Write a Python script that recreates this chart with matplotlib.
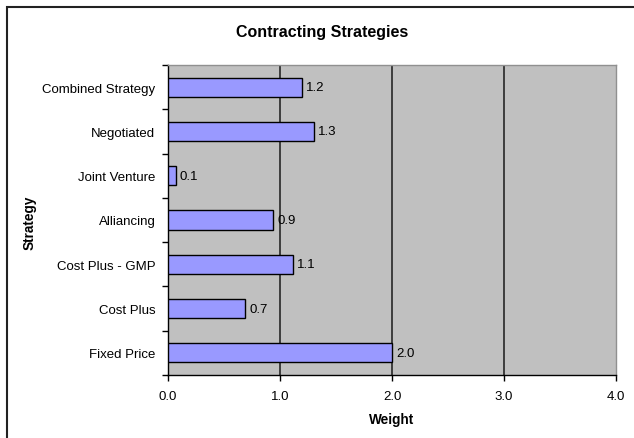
import matplotlib
matplotlib.use("Agg")
import matplotlib.pyplot as plt
from matplotlib.patches import Rectangle
import numpy as np

plt.rcParams['font.family'] = ['Liberation Sans', 'DejaVu Sans']

# strategies listed bottom to top
strategies = ['Fixed Price', 'Cost Plus', 'Cost Plus - GMP', 'Alliancing',
              'Joint Venture', 'Negotiated', 'Combined Strategy']
weights = [2.0, 0.69, 1.12, 0.94, 0.07, 1.3, 1.2]
x_ticks = [0.0, 1.0, 2.0, 3.0, 4.0]

W, H = 634, 439
fig = plt.figure(figsize=(W / 100, H / 100), dpi=100)
fig.patch.set_facecolor('white')

# plot area in pixel coordinates
left, right, top, bottom = 168, 616, 66, 376
ax = fig.add_axes([left / W, 1 - bottom / H, (right - left) / W, (bottom - top) / H])
ax.set_facecolor('#C0C0C0')

y = np.arange(len(strategies))
ax.barh(y, weights, height=0.43, color='#9999FF', edgecolor='black',
        linewidth=1.0, zorder=3)

for yi, w in zip(y, weights):
    ax.text(w + 0.035, yi, '%.1f' % w, va='center', ha='left', fontsize=9.5,
            zorder=4)

ax.set_xlim(0, 4)
ax.set_ylim(-0.5, len(strategies) - 0.5)

ax.set_xticks(x_ticks)
ax.set_xticklabels(['%.1f' % t for t in x_ticks], fontsize=9.5)
ax.set_yticks(y)
ax.set_yticklabels(strategies, fontsize=9.5)
ax.set_yticks(np.arange(-0.5, len(strategies)), minor=True)
ax.tick_params(axis='y', which='major', length=0, pad=9)
ax.tick_params(axis='y', which='minor', length=4, width=1.0, direction='out')
ax.tick_params(axis='x', which='major', length=4, width=1.0, direction='out', pad=7)

# vertical gridlines
for t in x_ticks[1:-1]:
    ax.axvline(t, color='#333333', linewidth=1.3, zorder=1)

ax.spines['left'].set_color('black')
ax.spines['bottom'].set_color('black')
ax.spines['top'].set_color('#909090')
ax.spines['right'].set_color('#909090')
for s in ax.spines.values():
    s.set_linewidth(1.0)

fig.text(322 / W, 1 - 33 / H, 'Contracting Strategies', ha='center', va='center',
         fontsize=11.5, fontweight='bold')
fig.text((left + right) / 2 / W, 1 - 420 / H, 'Weight', ha='center', va='center',
         fontsize=9.8, fontweight='bold')
fig.text(30 / W, 1 - 223 / H, 'Strategy', ha='center', va='center',
         rotation=90, fontsize=9.8, fontweight='bold')

# chart frame running off the right and bottom edges
fig.add_artist(Rectangle((7 / W, -0.1), 2.0, 1 - 8 / H + 0.1,
                         transform=fig.transFigure, fill=False,
                         edgecolor='#222222', linewidth=1.5))

fig.savefig('out.png', dpi=100)
